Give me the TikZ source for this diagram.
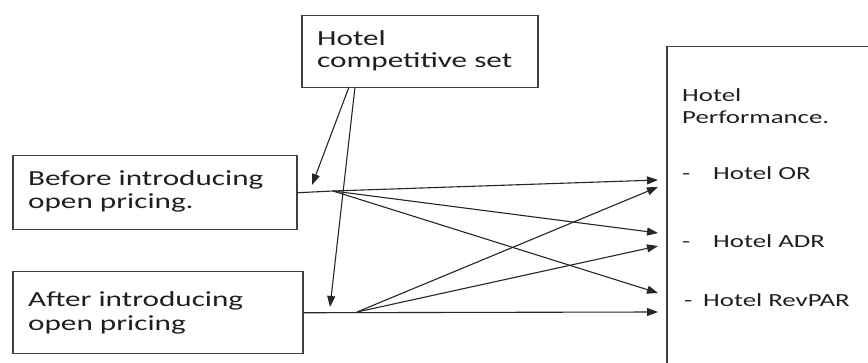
\documentclass[tikz,border=0pt]{standalone}
\usepackage{fontspec}
\setmainfont{Carlito}[FakeStretch=1.45]
\usetikzlibrary{arrows.meta}
\definecolor{boxgray}{HTML}{404040}
\begin{document}
\begin{tikzpicture}[x=1pt,y=-1pt,
  box/.style={draw=boxgray, line width=1.5pt, inner sep=0pt, anchor=north west},
  lbl/.style={anchor=base west, inner sep=0pt, font=\fontsize{21.5}{23}\selectfont, text=black!88},
  rlbl/.style={anchor=base west, inner sep=0pt, font=\fontsize{18.5}{21}\selectfont, text=black!88},
  ln/.style={line width=1.1pt, draw=black!85},
  arr/.style={ln, -{Triangle[length=11pt,width=8pt]}}]
\useasboundingbox (0,0) rectangle (868,363);
\begin{scope}
\clip (0,0) rectangle (868,363);
% boxes
\node[box, minimum width=236pt, minimum height=72pt] (comp) at (301,15) {};
\node[box, minimum width=284pt, minimum height=74pt] (before) at (12,155) {};
\node[box, minimum width=290pt, minimum height=82pt] (after) at (12,271) {};
\node[box, minimum width=260pt, minimum height=340pt] (perf) at (666,46) {};
% texts
\node[lbl] (t1) at (317,46) {Hotel};
\node[lbl] (t2) at (317,68) {competitive set};
\node[lbl] (b1) at (28,186) {Before introducing};
\node[lbl] (b2) at (28,209) {open pricing.};
\node[lbl] (a1) at (28,307) {After introducing};
\node[lbl] (a2) at (28,331) {open pricing};
\node[rlbl] (p1) at (682,102) {Hotel};
\node[rlbl] (p2) at (682,124) {Performance.};
\node[rlbl] (d1) at (682,180) {-};
\node[rlbl] (p3) at (713,180) {Hotel OR};
\node[rlbl] (d2) at (682,248) {-};
\node[rlbl] (p4) at (713,248) {Hotel ADR};
\node[rlbl] (d3) at (684,307) {-};
\node[rlbl] (p5) at (703,307) {Hotel RevPAR};
% coordinates
\coordinate (bfan) at (333,191);
\coordinate (afan) at (357,312);
\coordinate (c1) at (349,87);
\coordinate (c2) at (355,87);
\coordinate (tb) at (312,185);
\coordinate (ta) at (330,307);
\coordinate (or1) at (658,180);
\coordinate (or2) at (658,187);
\coordinate (adr1) at (658,233);
\coordinate (adr2) at (658,246);
\coordinate (rev1) at (658,293);
\coordinate (rev2) at (658,312);
% connectors
\draw[ln] (before.east) -- (bfan);
\draw[arr] (bfan) -- (or1);
\draw[arr] (bfan) -- (adr1);
\draw[arr] (bfan) -- (rev1);
\draw[arr] (after.east) -- (rev2);
\draw[arr] (afan) -- (or2);
\draw[arr] (afan) -- (adr2);
\draw[arr] (c1) -- (tb);
\draw[arr] (c2) -- (ta);
\end{scope}
\end{tikzpicture}
\end{document}
